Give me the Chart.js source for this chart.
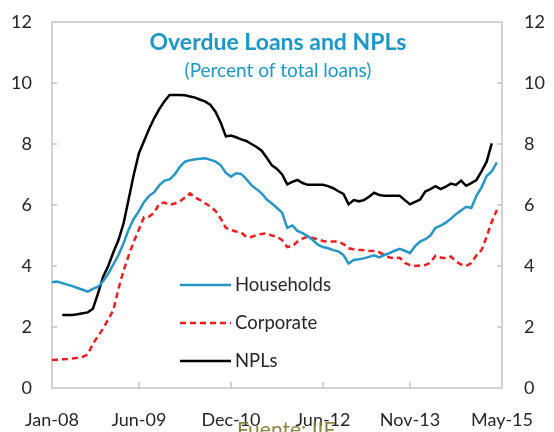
<!DOCTYPE html>
<html>
<head>
<meta charset="utf-8">
<script src="https://cdn.jsdelivr.net/npm/chart.js@4"></script>
<style>
  body { margin: 0; background: #fff; }
  #wrap { width: 554px; height: 432px; }
</style>
</head>
<body>
<div id="wrap"><canvas id="chart" width="554" height="432"></canvas></div>
<script>
// Meses Jan-08 .. May-15
const monthNames = ['Jan','Feb','Mar','Apr','May','Jun','Jul','Aug','Sep','Oct','Nov','Dec'];
const months = [];
for (let y = 8; y <= 15; y++) {
  for (let m = 0; m < 12; m++) {
    if (y === 15 && m > 4) break;
    months.push(monthNames[m] + '-' + String(y).padStart(2, '0'));
  }
}
const tickLabels = ['Jan-08', 'Jun-09', 'Dec-10', 'Jun-12', 'Nov-13', 'May-15'];

// Series (percent of total loans)
const households = [
  3.47, 3.49, 3.44, 3.39, 3.34, 3.28, 3.22, 3.16, 3.25, 3.32,
  3.50, 3.75, 4.05, 4.36, 4.75, 5.20, 5.55, 5.80, 6.10, 6.30,
  6.42, 6.65, 6.80, 6.84, 7.00, 7.25, 7.42, 7.47, 7.50, 7.52,
  7.53, 7.48, 7.42, 7.30, 7.05, 6.93, 7.04, 7.02, 6.85, 6.65,
  6.52, 6.38, 6.18, 6.05, 5.90, 5.75, 5.25, 5.33, 5.15, 5.08,
  4.98, 4.85, 4.70, 4.62, 4.58, 4.52, 4.48, 4.36, 4.08, 4.20,
  4.22, 4.25, 4.30, 4.35, 4.28, 4.36, 4.42, 4.50, 4.56, 4.50,
  4.42, 4.65, 4.80, 4.88, 5.00, 5.25, 5.32, 5.42, 5.55, 5.70,
  5.82, 5.94, 5.90, 6.30, 6.58, 6.95, 7.10, 7.40, null
];
const corporate = [
  0.92, 0.93, 0.94, 0.95, 0.97, 0.99, 1.02, 1.10, 1.45, 1.70,
  1.95, 2.25, 2.55, 3.25, 3.85, 4.35, 4.80, 5.20, 5.60, 5.62,
  5.75, 6.05, 6.08, 6.00, 6.05, 6.12, 6.25, 6.38, 6.25, 6.16,
  6.05, 5.95, 5.80, 5.55, 5.25, 5.18, 5.13, 5.10, 4.95, 4.95,
  5.02, 5.05, 5.07, 5.00, 4.96, 4.85, 4.62, 4.65, 4.80, 4.90,
  4.96, 4.92, 4.87, 4.82, 4.80, 4.80, 4.80, 4.72, 4.58, 4.55,
  4.53, 4.52, 4.50, 4.49, 4.45, 4.36, 4.28, 4.25, 4.27, 4.10,
  4.03, 4.00, 4.02, 4.03, 4.11, 4.34, 4.28, 4.25, 4.31, 4.15,
  4.05, 4.00, 4.10, 4.35, 4.52, 4.96, 5.45, 5.84, null
];
const npls = [
  null, null, 2.39, 2.39, 2.39, 2.42, 2.45, 2.48, 2.60, 3.10,
  3.65, 4.00, 4.45, 4.85, 5.40, 6.20, 7.00, 7.70, 8.10, 8.50,
  8.85, 9.15, 9.40, 9.61, 9.61, 9.61, 9.60, 9.56, 9.52, 9.45,
  9.39, 9.28, 9.05, 8.70, 8.25, 8.28, 8.22, 8.15, 8.10, 8.00,
  7.90, 7.78, 7.55, 7.30, 7.18, 7.00, 6.68, 6.76, 6.82, 6.72,
  6.66, 6.66, 6.66, 6.66, 6.62, 6.55, 6.45, 6.36, 6.02, 6.16,
  6.12, 6.16, 6.27, 6.40, 6.33, 6.30, 6.30, 6.30, 6.30, 6.16,
  6.02, 6.10, 6.18, 6.44, 6.52, 6.62, 6.52, 6.60, 6.70, 6.66,
  6.80, 6.63, 6.72, 6.82, 7.10, 7.42, 8.02, null, null
];

const FONT = 'Lato, "Open Sans", sans-serif';
const TEXT = '#262626';
const FRAME = '#c4c4c4';

// Marco, marcas interiores, titulo, leyenda y fuente
const decor = {
  id: 'decor',
  beforeDatasetsDraw(chart) {
    const { ctx, chartArea: a, scales } = chart;
    ctx.save();
    ctx.strokeStyle = FRAME;
    ctx.lineWidth = 1.5;
    ctx.strokeRect(a.left, a.top, a.right - a.left, a.bottom - a.top);
    ctx.beginPath();
    for (let v = 2; v <= 10; v += 2) {
      const y = scales.y.getPixelForValue(v);
      ctx.moveTo(a.left, y); ctx.lineTo(a.left + 5, y);
      ctx.moveTo(a.right, y); ctx.lineTo(a.right - 5, y);
    }
    tickLabels.slice(1, -1).forEach(l => {
      const x = scales.x.getPixelForValue(months.indexOf(l));
      ctx.moveTo(x, a.bottom); ctx.lineTo(x, a.bottom - 6);
    });
    ctx.stroke();
    ctx.restore();
  },
  afterDraw(chart) {
    const { ctx, chartArea: a } = chart;
    const cx = (a.left + a.right) / 2 + 1;
    ctx.save();
    ctx.textAlign = 'center';
    ctx.textBaseline = 'alphabetic';
    ctx.fillStyle = '#1b98c8';
    ctx.font = 'bold 23px ' + FONT;
    ctx.fillText('Overdue Loans and NPLs', cx, 50);
    ctx.font = '19px ' + FONT;
    ctx.fillText('(Percent of total loans)', cx, 77);

    // leyenda
    ctx.textAlign = 'left';
    ctx.textBaseline = 'middle';
    ctx.font = '18.5px ' + FONT;
    chart.data.datasets.forEach((ds, i) => {
      const y = 285 + i * 38;
      ctx.strokeStyle = ds.borderColor;
      ctx.lineWidth = ds.borderWidth;
      ctx.setLineDash(ds.borderDash || []);
      ctx.beginPath();
      ctx.moveTo(180, y); ctx.lineTo(231, y);
      ctx.stroke();
      ctx.setLineDash([]);
      ctx.fillStyle = TEXT;
      ctx.fillText(ds.label, 235, y);
    });

    // fuente (cortada abajo)
    ctx.textBaseline = 'alphabetic';
    ctx.fillStyle = '#8f8444';
    ctx.font = '21px ' + FONT;
    ctx.fillText('Fuente: IIF', 237, 437);
    ctx.restore();
  }
};

const tickFont = { family: FONT, size: 18 };

new Chart(document.getElementById('chart'), {
  type: 'line',
  data: {
    labels: months,
    datasets: [
      { label: 'Households', data: households, borderColor: '#2596c5', borderWidth: 2.5 },
      { label: 'Corporate', data: corporate, borderColor: '#f01c1c', borderWidth: 2.5, borderDash: [6, 4] },
      { label: 'NPLs', data: npls, borderColor: '#000000', borderWidth: 2.5 }
    ]
  },
  options: {
    responsive: false,
    animation: false,
    layout: { padding: { top: 22 } },
    elements: { point: { radius: 0 }, line: { tension: 0, borderCapStyle: 'butt' } },
    plugins: { legend: { display: false }, tooltip: { enabled: false } },
    scales: {
      x: {
        grid: { display: false, drawTicks: false },
        border: { display: false },
        ticks: {
          autoSkip: false, maxRotation: 0, minRotation: 0, padding: 21,
          color: TEXT, font: tickFont,
          callback(v) { const l = months[v]; return tickLabels.includes(l) ? l : ''; }
        },
        afterFit(s) { s.height = 44; }
      },
      y: {
        position: 'left', min: 0, max: 12,
        // tickLength hace de separacion (ticks.padding infla el margen superior)
        grid: { display: false, drawTicks: true, tickLength: 20 },
        border: { display: false },
        ticks: { stepSize: 2, padding: 0, color: TEXT, font: tickFont },
        afterFit(s) { s.width = 52; }
      },
      y2: {
        position: 'right', min: 0, max: 12,
        grid: { display: false, drawTicks: true, tickLength: 22 },
        border: { display: false },
        ticks: { stepSize: 2, padding: 0, color: TEXT, font: tickFont },
        afterFit(s) { s.width = 44; }
      }
    }
  },
  plugins: [decor]
});
</script>
</body>
</html>
